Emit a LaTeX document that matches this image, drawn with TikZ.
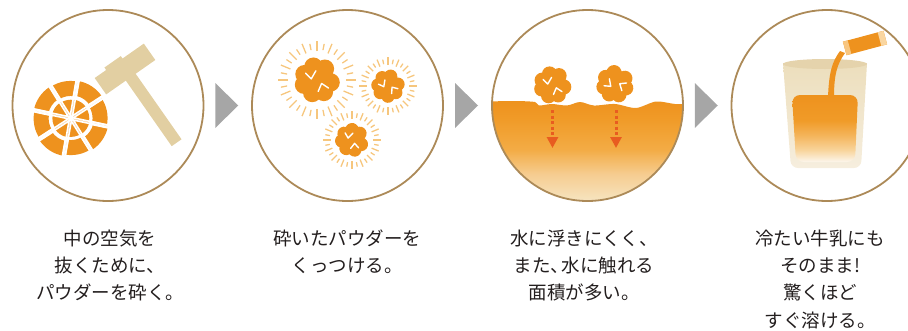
\documentclass[tikz,border=0pt]{standalone}
\usepackage{fontspec}
\setmainfont{Noto Sans CJK JP}
\usetikzlibrary{calc,arrows.meta}

\definecolor{ringline}{RGB}{172,138,88}
\definecolor{powder}{RGB}{238,146,30}
\definecolor{glowray}{RGB}{246,198,125}
\definecolor{hammerwood}{RGB}{226,207,162}
\definecolor{chevgray}{RGB}{166,166,166}
\definecolor{dropred}{RGB}{232,92,32}
\definecolor{cream}{RGB}{246,228,192}
\definecolor{glassrim}{RGB}{229,211,172}
\definecolor{glasstop}{RGB}{236,222,188}
\definecolor{glassbottom}{RGB}{246,238,222}
\definecolor{packetend}{RGB}{248,198,128}
\definecolor{packettail}{RGB}{250,214,160}
\definecolor{captext}{RGB}{35,30,30}
% steps of the liquid gradients
\definecolor{bowlA}{RGB}{246,205,145}
\definecolor{bowlB}{RGB}{243,172,70}
\definecolor{bowlC}{RGB}{240,155,40}
\definecolor{milkA}{RGB}{252,246,236}
\definecolor{milkB}{RGB}{248,212,155}
\definecolor{milkC}{RGB}{244,180,90}
\definecolor{milkD}{RGB}{240,155,40}

% liquid in the bowl: strong orange at the surface, creamy at the bottom
\pgfdeclareverticalshading{bowlliquid}{100bp}{
  color(0bp)=(cream); color(26bp)=(cream); color(39bp)=(bowlA);
  color(51bp)=(bowlB); color(66bp)=(bowlC);
  color(75bp)=(powder); color(100bp)=(powder)}
% milk in the glass: orange at the top, almost white at the bottom
\pgfdeclareverticalshading{glassliquid}{100bp}{
  color(0bp)=(milkA); color(25bp)=(milkA); color(34bp)=(milkB);
  color(45bp)=(milkC); color(56bp)=(milkD);
  color(75bp)=(powder); color(100bp)=(powder)}

\begin{document}
\begin{tikzpicture}[x=1pt,y=-1pt,
  stage/.style={circle, draw=ringline, line width=1.8pt, minimum size=191pt, inner sep=0pt},
  captionbox/.style={anchor=north, align=center, inner sep=0pt, text=captext,
    font=\fontsize{18.5}{27.3}\selectfont},
  cut/.style={white, line width=3.2pt},
  crack/.style={white, line width=1.4pt, line cap=round, line join=round},
  ray/.style={glowray, line width=1.3pt},
  droparrow/.style={dropred, line width=3pt, dash pattern=on 3pt off 2.6pt,
    -{Triangle[width=11pt,length=11pt]}},
  granule/.pic={
    \fill[powder] (0,0) circle (15);
    \foreach \a in {10,60,110,160,205,255,305}
      \fill[powder] (\a:12) circle (8);
    \draw[crack] (-10,-6) -- (-5,-1) -- (-1,-8);
    \draw[crack] (1,10) -- (4,3) -- (10,7);
  },
  glow/.pic={
    \foreach \i in {0,2,...,30} \draw[ray] (\i*360/32:25) -- (\i*360/32:34);
    \foreach \i in {1,3,...,31} \draw[ray] (\i*360/32:26.5) -- (\i*360/32:32);
  }]
\useasboundingbox (0,0) rectangle (908,330);

% stage centres
\coordinate (c1) at (108,105.5);
\coordinate (c2) at (347.5,105.5);
\coordinate (c3) at (587.5,105.5);
\coordinate (c4) at (827,105.5);

% ---- stage 1: crushed granule (pieces pushed apart) and hammer
\coordinate (disk) at (70.8,118.3);
\foreach \a/\b/\so/\si in {12/58/2.2/1, 58/100/0.8/0.6, 100/147/2.4/1.2, 147/192/1.2/0.4,
                           192/238/2/1, 238/280/1.4/0.6, 280/327/2.2/1, 327/372/0.8/0.5} {
  \begin{scope}[shift={(disk)}]
    \begin{scope}[shift={({(\a+\b)/2}:\so)}]
      \clip (0,0) -- (\a:45) arc[start angle=\a, end angle=\b, radius=45] -- cycle;
      \fill[powder, even odd rule] (0,0) circle (36) (0,0) circle (21);
      \draw[cut] (\a:45) -- (0,0) -- (\b:45);
    \end{scope}
    \begin{scope}[shift={({(\a+\b)/2}:\si)}]
      \clip (0,0) -- (\a:45) arc[start angle=\a, end angle=\b, radius=45] -- cycle;
      \fill[powder, even odd rule] (0,0) circle (18) (0,0) circle (2.5);
      \draw[cut] (\a:45) -- (0,0) -- (\b:45);
    \end{scope}
  \end{scope}
}
\begin{scope}[shift={(125,69)}, rotate=35]
  \fill[hammerwood] (-6,0) rectangle (6,90);
  \fill[hammerwood] (-30,-10) rectangle (30,10);
  \fill[hammerwood] (-16,-13) rectangle (4,-9);
\end{scope}

% ---- stage 2: granules sticking together
\pic[scale=1.15] at (317,80) {glow};
\pic[scale=1.15] at (317,80) {granule};
\pic[scale=0.84] at (388,86) {glow};
\pic[scale=0.84, rotate=20] at (388,86) {granule};
\pic[scale=0.85] at (352,140) {glow};
\pic[scale=0.85, rotate=-15] at (352,140) {granule};

% ---- stage 3: granules sinking into liquid
\begin{scope}
  \clip (c3) circle (95.5);
  \shade[shading=bowlliquid]
    plot[smooth] coordinates {(488,101.5) (515,101) (535,102) (539,105.5) (552,104)
      (567,105.5) (580,102) (594,105.5) (615,104) (636,108) (656,101.5) (675,104) (690,104)}
    -- (690,203) -- (488,203) -- cycle;
\end{scope}
\pic[scale=0.95] at (552.5,85) {granule};
\pic[scale=0.95, rotate=40] at (615,84) {granule};
\coordinate (d1s) at (552.5,110);
\coordinate (d1e) at (552.5,148);
\coordinate (d2s) at (616,110);
\coordinate (d2e) at (616,148);
\draw[droparrow] (d1s) -- (d1e);
\draw[droparrow] (d2s) -- (d2e);

% ---- stage 4: pouring into a glass of milk
\shade[top color=glasstop, bottom color=glassbottom]
  (783,63) {[rounded corners=7] -- (791,168) -- (861,168)} -- (867,63) -- cycle;
\fill[glassrim] (825,64) ellipse (42 and 5);
\shade[shading=glassliquid, rounded corners=8]
  (792,95) -- (858,95) -- (855,162) -- (796,162) -- cycle;
\fill[powder] (840,51) .. controls (832,62) and (829,72) .. (828,97)
  -- (834,97) .. controls (834,75) and (837,64) .. (845,53) -- cycle;
\begin{scope}[shift={(865,43)}, rotate=15]
  \fill[powder] (-21,-7) rectangle (21,7);
  \fill[packetend] (-21,-7) rectangle (-16,7);
  \fill[packettail] (15,-7) rectangle (21,7);
\end{scope}

% ---- stage outlines and arrows between them
\node[stage] (s1) at (c1) {};
\node[stage] (s2) at (c2) {};
\node[stage] (s3) at (c3) {};
\node[stage] (s4) at (c4) {};
\foreach \p/\q in {s1/s2, s2/s3, s3/s4} {
  \coordinate (m) at ($(\p)!0.5!(\q)$);
  \fill[chevgray] ($(m)+(-12.5,-22.5)$) -- ++(23,22.5) -- ++(-23,22.5) -- cycle;
}

% ---- captions
\node[captionbox] (t1) at (110,229.5) {中の空気を\\抜くために、\\パウダーを砕く。};
\node[captionbox] (t2) at (347,229.5) {砕いたパウダーを\\くっつける。};
\node[captionbox] (t3) at (584,229.5) {水に浮きにくく、\\また、\kern-0.4em 水に触れる\\面積が多い。};
\node[captionbox] (t4) at (820,229.5) {冷たい牛乳にも\\そのまま!\\驚くほど\\すぐ溶ける。};
\end{tikzpicture}
\end{document}
